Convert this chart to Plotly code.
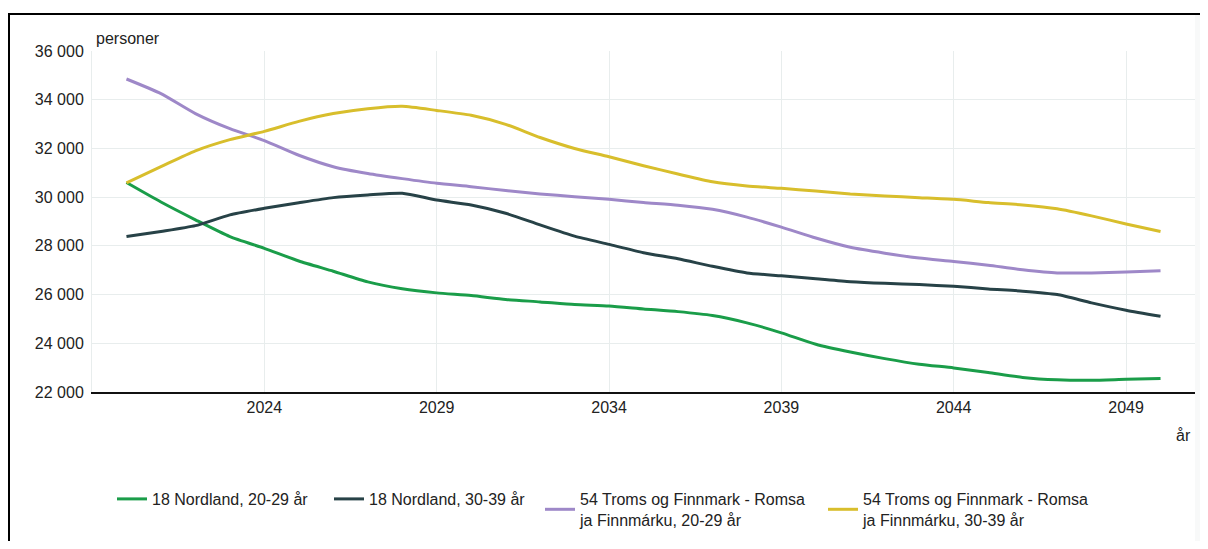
import plotly.graph_objects as go

years = list(range(2020, 2051))

nordland_20_29 = [30600, 29800, 29070, 28380, 27900, 27380, 26960, 26520, 26240, 26070,
                  25960, 25800, 25700, 25590, 25530, 25410, 25300, 25140, 24840, 24430,
                  23960, 23640, 23370, 23140, 22990, 22800, 22600, 22500, 22480, 22520, 22550]
nordland_30_39 = [28380, 28590, 28830, 29270, 29540, 29770, 29980, 30090, 30160, 29880,
                  29680, 29340, 28860, 28400, 28060, 27720, 27470, 27160, 26890, 26770,
                  26650, 26530, 26460, 26410, 26340, 26230, 26140, 26000, 25660, 25360, 25110]
troms_20_29 = [34850, 34250, 33430, 32810, 32320, 31720, 31250, 30970, 30760, 30570,
               30430, 30270, 30130, 30020, 29910, 29780, 29670, 29500, 29180, 28770,
               28320, 27940, 27700, 27500, 27360, 27200, 27020, 26890, 26890, 26930, 26980]
troms_30_39 = [30590, 31250, 31900, 32360, 32700, 33110, 33430, 33630, 33730, 33560,
               33360, 32990, 32450, 32000, 31660, 31290, 30950, 30630, 30460, 30360,
               30250, 30130, 30050, 29980, 29910, 29780, 29680, 29520, 29230, 28900, 28590]

series_names = [
    "18 Nordland, 20-29 år",
    "18 Nordland, 30-39 år",
    "54 Troms og Finnmark - Romsa<br>ja Finnmárku, 20-29 år",
    "54 Troms og Finnmark - Romsa<br>ja Finnmárku, 30-39 år",
]
series_values = [nordland_20_29, nordland_30_39, troms_20_29, troms_30_39]
colors = ["#1a9d49", "#274247", "#9e88c8", "#d8be2c"]

y_ticks = [22000, 24000, 26000, 28000, 30000, 32000, 34000, 36000]
x_ticks = [2024, 2029, 2034, 2039, 2044, 2049]

# page offset (html body margin)
OFF = 8
W, H = 1192, 533
L, T = 84, 43
pw, ph = 1103, 342
R = W - L - pw
B = H - T - ph


def px_x(p):
    return (p - OFF - L) / pw


def px_y(p):
    return (H - B - (p - OFF)) / ph


legend_ids = ["legend", "legend2", "legend3", "legend4"]
legend_left = [117, 334, 545, 828]

fig = go.Figure()
for name, vals, col, lid in zip(series_names, series_values, colors, legend_ids):
    fig.add_trace(go.Scatter(
        x=years, y=vals, name=name, mode="lines", legend=lid,
        line=dict(color=col, width=3, shape="spline", smoothing=0.6),
    ))

font_family = "Liberation Sans, Arial, sans-serif"
FS = 16
TXT = "#222222"

legend_layout = {}
for lid, lx in zip(legend_ids, legend_left):
    legend_layout[lid] = dict(
        orientation="h", x=px_x(lx - 5), y=px_y(482), xanchor="left", yanchor="top",
        font=dict(family=font_family, size=FS, color=TXT), itemwidth=30,
        valign="middle", bgcolor="rgba(0,0,0,0)", borderwidth=0,
    )

fig.update_layout(
    width=W, height=H,
    margin=dict(l=L, r=R, t=T, b=B),
    paper_bgcolor="white", plot_bgcolor="white",
    separators=", ",
    font=dict(family=font_family, size=FS, color=TXT),
    showlegend=True,
    xaxis=dict(
        range=[2019, 2051], tickvals=x_ticks, ticktext=[str(v) for v in x_ticks],
        showgrid=True, gridcolor="#e8eded", gridwidth=1,
        showline=True, linecolor="#111111", linewidth=1.5,
        zeroline=False, ticks="", tickfont=dict(size=FS, color=TXT),
    ),
    yaxis=dict(
        range=[22000, 36000], tickvals=y_ticks, tickformat=",d",
        showgrid=True, gridcolor="#e8eded", gridwidth=1,
        showline=True, linecolor="#e8eded", linewidth=1,
        zeroline=False, ticks="", tickfont=dict(size=FS, color=TXT),
        ticklabelstandoff=4,
    ),
    shapes=[
        dict(type="rect", xref="paper", yref="paper",
             x0=1.0, x1=px_x(1215), y0=px_y(560), y1=px_y(15),
             fillcolor="#f8f9f9", line=dict(width=0), layer="below"),
        dict(type="line", xref="paper", yref="paper",
             x0=px_x(8), x1=px_x(1215), y0=px_y(14), y1=px_y(14),
             line=dict(color="#000000", width=2)),
        dict(type="line", xref="paper", yref="paper",
             x0=px_x(9), x1=px_x(9), y0=px_y(13), y1=px_y(560),
             line=dict(color="#000000", width=2)),
    ],
    annotations=[
        dict(text="personer", xref="paper", yref="paper", x=px_x(94), y=px_y(38),
             xanchor="left", yanchor="middle", showarrow=False,
             font=dict(size=FS, color=TXT)),
        dict(text="år", xref="paper", yref="paper", x=px_x(1193), y=px_y(437),
             xanchor="right", yanchor="middle", showarrow=False,
             font=dict(size=FS, color=TXT)),
    ],
    **legend_layout,
)

fig.write_html("out.html")
